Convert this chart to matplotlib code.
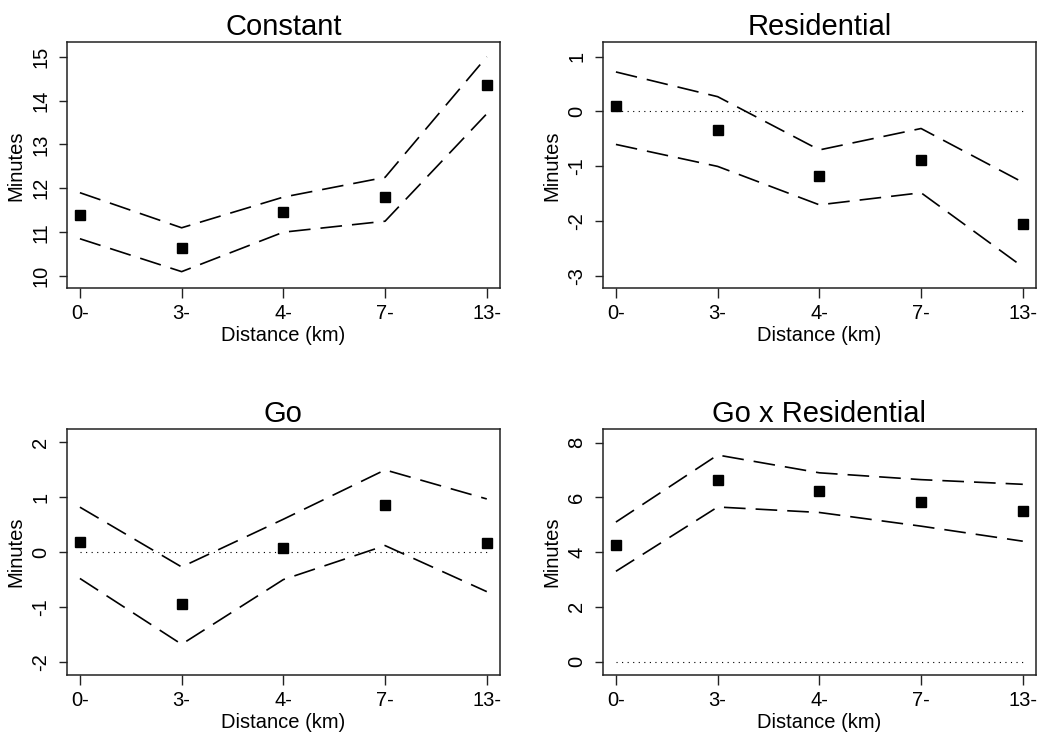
import matplotlib
matplotlib.use("Agg")
import matplotlib.pyplot as plt

plt.rcParams['font.family'] = ['Liberation Sans', 'DejaVu Sans']

categories = ["0-", "3-", "4-", "7-", "13-"]

titles = ["Constant", "Residential", "Go", "Go x Residential"]

const_pt = [11.4, 10.65, 11.45, 11.8, 14.35]
const_hi = [11.9, 11.1, 11.8, 12.25, 15.0]
const_lo = [10.85, 10.1, 11.0, 11.25, 13.7]

resid_pt = [0.1, -0.33, -1.18, -0.88, -2.05]
resid_hi = [0.72, 0.27, -0.70, -0.31, -1.29]
resid_lo = [-0.60, -1.0, -1.70, -1.48, -2.83]

go_pt = [0.18, -0.95, 0.08, 0.86, 0.16]
go_hi = [0.82, -0.27, 0.60, 1.50, 0.97]
go_lo = [-0.48, -1.68, -0.50, 0.12, -0.72]

gxr_pt = [4.25, 6.65, 6.25, 5.85, 5.5]
gxr_hi = [5.1, 7.55, 6.9, 6.65, 6.48]
gxr_lo = [3.3, 5.65, 5.45, 4.95, 4.4]

yticks = [[10, 11, 12, 13, 14, 15], [-3, -2, -1, 0, 1], [-2, -1, 0, 1, 2], [0, 2, 4, 6, 8]]
ylims = [(9.72, 15.33), (-3.22, 1.26), (-2.24, 2.24), (-0.49, 8.49)]
zero_line = [False, True, True, True]

series = [(const_pt, const_hi, const_lo), (resid_pt, resid_hi, resid_lo),
          (go_pt, go_hi, go_lo), (gxr_pt, gxr_hi, gxr_lo)]

W, H = 1045, 735
fig = plt.figure(figsize=(W / 100, H / 100), dpi=100)

# axes boxes in pixels: left, top, right, bottom
boxes = [(66.7, 42.3, 500, 288.3), (602.7, 42.3, 1036, 288.3),
         (66.7, 429.3, 500, 675), (602.7, 429.3, 1036, 675)]

x = list(range(len(categories)))
for i, (l, t, r, b) in enumerate(boxes):
    ax = fig.add_axes([l / W, 1 - b / H, (r - l) / W, (b - t) / H])
    pt, hi, lo = series[i]
    if zero_line[i]:
        ax.plot([x[0], x[-1]], [0, 0], color='black', lw=0.8, dashes=(1, 4))
    ax.plot(x, hi, color='black', lw=1.2, dashes=(13, 6))
    ax.plot(x, lo, color='black', lw=1.2, dashes=(13, 6))
    ax.plot(x, pt, 's', color='black', markersize=7.5, ls='none')
    ax.set_xlim(-0.13, 4.13)
    ax.set_ylim(*ylims[i])
    ax.set_xticks(x)
    ax.set_xticklabels(categories, fontsize=14.5)
    ax.set_yticks(yticks[i])
    ax.set_yticklabels([str(v) for v in yticks[i]], fontsize=14.5, rotation=90, va='center')
    ax.tick_params(axis='x', length=7, width=1, color='#222222', pad=4.5)
    ax.tick_params(axis='y', length=6, width=1, color='#222222', pad=6)
    for s in ax.spines.values():
        s.set_linewidth(1.1)
        s.set_color('#222222')
    ax.set_xlabel("Distance (km)", fontsize=14.5, labelpad=2)
    ax.set_ylabel("Minutes", fontsize=14.5, labelpad=4)
    ax.set_title(titles[i], fontsize=21, pad=5)

fig.savefig("out.png", dpi=100, facecolor='white')
